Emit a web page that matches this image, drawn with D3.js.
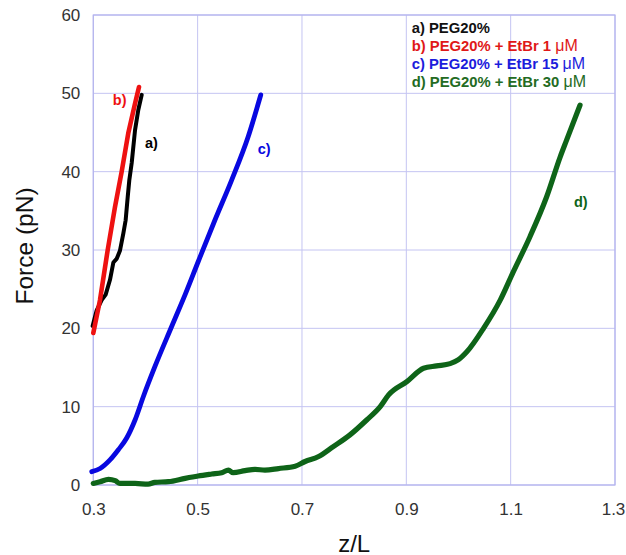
<!DOCTYPE html>
<html>
<head>
<meta charset="utf-8">
<script src="https://cdn.jsdelivr.net/npm/d3@7"></script>
<style>
	body { margin: 0; background: #fff; }
	svg { display: block; font-family: "Liberation Sans", Arial, sans-serif; }
	.grid line { stroke: #c4c4f2; stroke-width: 1; }
	.frame { fill: none; stroke: #b4b4ee; stroke-width: 1.2; }
	.tick text { fill: #333; font-size: 17px; }
	.curve { fill: none; stroke-linejoin: round; stroke-linecap: round; }
	.label { font-weight: bold; font-size: 14.5px; }
</style>
</head>
<body>
<svg id="chart" width="626" height="555"></svg>
<script>

// data: [z/L, force pN]
var curveA = [[0.2987, 20.3], [0.3065, 22.3], [0.316, 23.6], [0.3237, 24.3], [0.332, 26.2], [0.3384, 28.4], [0.345, 28.9], [0.351, 29.9], [0.3575, 32.1], [0.362, 33.8], [0.366, 36.8], [0.369, 38.9], [0.3736, 41.1], [0.380, 45.3], [0.3863, 47.9], [0.3928, 49.8]];
var curveB = [[0.300, 19.4], [0.3128, 23.6], [0.3276, 30.0], [0.3416, 35.5], [0.3544, 40.0], [0.367, 44.9], [0.380, 48.7], [0.3876, 50.8]];
var curveC = [[0.297, 1.7], [0.313, 2.1], [0.332, 3.2], [0.348, 4.5], [0.364, 6.0], [0.380, 8.3], [0.396, 11.3], [0.418, 15.1], [0.450, 20.2], [0.476, 24.3], [0.501, 28.5], [0.533, 33.8], [0.565, 38.9], [0.597, 44.5], [0.621, 49.8]];
var curveD = [[0.300, 0.2], [0.313, 0.42], [0.329, 0.72], [0.342, 0.55], [0.351, 0.2], [0.380, 0.2], [0.405, 0.1], [0.418, 0.34], [0.444, 0.42], [0.476, 0.85], [0.501, 1.15], [0.527, 1.4], [0.546, 1.57], [0.559, 1.9], [0.568, 1.57], [0.591, 1.83], [0.610, 2.0], [0.629, 1.9], [0.655, 2.1], [0.687, 2.4], [0.706, 3.0], [0.731, 3.6], [0.760, 4.9], [0.792, 6.4], [0.824, 8.3], [0.850, 10.0], [0.866, 11.5], [0.901, 13.2], [0.933, 14.9], [0.958, 15.2], [0.984, 15.5], [1.000, 16.0], [1.016, 17.0], [1.048, 20.0], [1.080, 23.6], [1.105, 27.2], [1.137, 31.7], [1.169, 36.8], [1.195, 41.9], [1.207, 44.0], [1.233, 48.5]];

var xTicks = [0.3, 0.5, 0.7, 0.9, 1.1, 1.3];
var yTicks = [0, 10, 20, 30, 40, 50, 60];

var seriesNames = ["a)", "b)", "c)", "d)"];
var legendTexts = ["a) PEG20%", "b) PEG20% + EtBr 1 ", "c) PEG20% + EtBr 15 ", "d) PEG20% + EtBr 30 "];
var legendUnits = ["", "\u03bcM", "\u03bcM", "\u03bcM"];

var colors = ["#000000", "#ee1111", "#0808e0", "#0e6418"];
var legendColors = ["#111111", "#e01818", "#1c1cdc", "#236b23"];
var widths = [4, 4.6, 4.8, 5.2];

var plotLeft = 93.3, plotRight = 615, plotTop = 15, plotBottom = 485;

var svg = d3.select("#chart");

var x = d3.scaleLinear().domain([0.3, 1.3]).range([plotLeft, plotRight]);
var y = d3.scaleLinear().domain([0, 60]).range([plotBottom, plotTop]);

// grid
var grid = svg.append("g").attr("class", "grid");

grid.selectAll("line.v")
.data(xTicks)
.enter()
.append("line")
.attr("class", "v")
.attr("x1", function (d) { return x(d); })
.attr("x2", function (d) { return x(d); })
.attr("y1", plotTop)
.attr("y2", plotBottom);

grid.selectAll("line.h")
.data(yTicks)
.enter()
.append("line")
.attr("class", "h")
.attr("x1", plotLeft)
.attr("x2", plotRight)
.attr("y1", function (d) { return y(d); })
.attr("y2", function (d) { return y(d); });

svg.append("rect")
.attr("class", "frame")
.attr("x", plotLeft)
.attr("y", plotTop)
.attr("width", plotRight - plotLeft)
.attr("height", plotBottom - plotTop);

// axes, only for the labels
svg.append("g")
.attr("transform", "translate(0," + plotBottom + ")")
.call(d3.axisBottom(x).tickValues(xTicks).tickSize(0).tickPadding(18).tickFormat(d3.format(".1f")));

svg.append("g")
.attr("transform", "translate(" + plotLeft + ",0)")
.call(d3.axisLeft(y).tickValues(yTicks).tickSize(0).tickPadding(13).tickFormat(d3.format("d")));

svg.selectAll(".domain").remove();

// last x label sits on the window edge, keep it inside
svg.selectAll(".tick text")
.filter(function (d) { return d === 1.3; })
.attr("dx", -2);

// curves
var curves = [curveA, curveB, curveC, curveD];

var lineSmooth = d3.line()
.x(function (d) { return x(d[0]); })
.y(function (d) { return y(d[1]); })
.curve(d3.curveMonotoneX);

var lineRough = d3.line()
.x(function (d) { return x(d[0]); })
.y(function (d) { return y(d[1]); });

svg.selectAll("path.curve")
.data([curveD, curveC, curveA, curveB])
.enter()
.append("path")
.attr("class", "curve")
.attr("d", function (d) { return (d === curveA || d === curveB) ? lineRough(d) : lineSmooth(d); })
.attr("stroke", function (d) { return colors[curves.indexOf(d)]; })
.attr("stroke-width", function (d) { return widths[curves.indexOf(d)]; });

// curve labels
var labelPos = [[0.3990, 43.0], [0.3375, 48.5], [0.6150, 42.3], [1.2212, 35.5]];

svg.selectAll("text.label")
.data(seriesNames)
.enter()
.append("text")
.attr("class", "label")
.attr("x", function (d, i) { return x(labelPos[i][0]); })
.attr("y", function (d, i) { return y(labelPos[i][1]); })
.attr("fill", function (d, i) { return colors[i]; })
.text(function (d) { return d; });

// legend
var legend = svg.append("g")
.attr("transform", "translate(411.7,33)");

var legendText = legend.selectAll("text")
.data(legendTexts)
.enter()
.append("text")
.attr("x", 0)
.attr("y", function (d, i) { return i * 18.1; })
.attr("fill", function (d, i) { return legendColors[i]; })
.style("font-weight", "bold")
.style("font-size", "14.8px");

legendText.append("tspan")
.text(function (d) { return d; });

legendText.append("tspan")
.style("font-weight", "normal")
.style("font-size", "16px")
.text(function (d, i) { return legendUnits[i]; });

// axis titles
svg.append("text")
.attr("x", (plotLeft + plotRight) / 2)
.attr("y", 551.5)
.attr("text-anchor", "middle")
.style("font-size", "24px")
.attr("fill", "#111")
.text("z/L");

svg.append("text")
.attr("transform", "translate(33,246) rotate(-90)")
.attr("text-anchor", "middle")
.style("font-size", "24.5px")
.attr("fill", "#111")
.text("Force (pN)");

</script>
</body>
</html>
